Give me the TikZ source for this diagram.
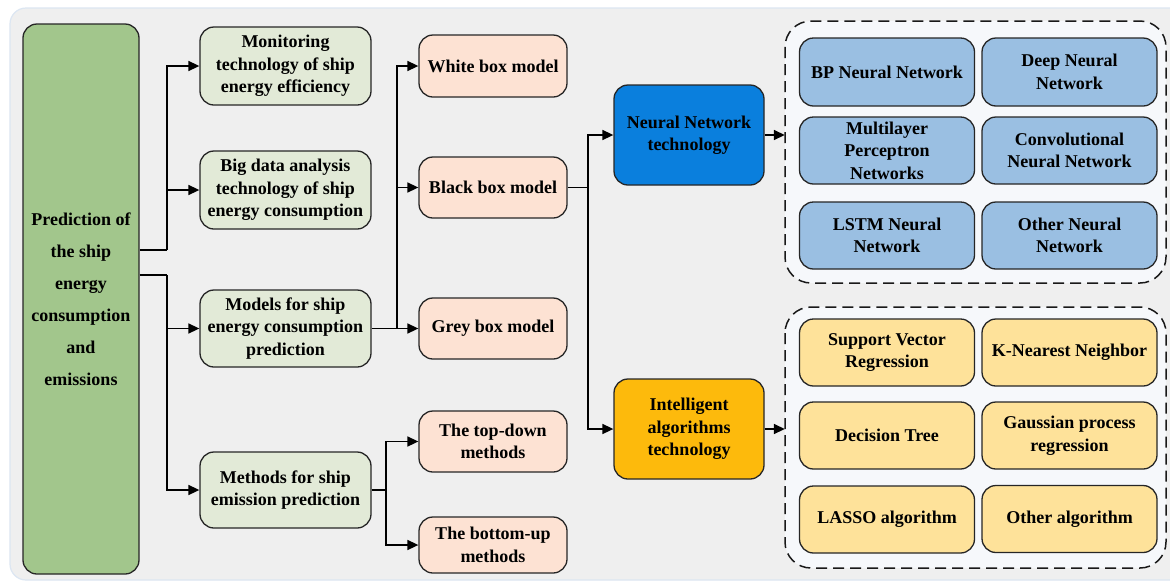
\documentclass[tikz,border=0pt]{standalone}
\usepackage{fontspec}
\setmainfont{Liberation Serif}
\usetikzlibrary{arrows.meta}
\definecolor{panelfill}{HTML}{EFEFEF}
\definecolor{panelline}{HTML}{DCE6F2}
\definecolor{maingreen}{HTML}{A2C68C}
\definecolor{lightgreen}{HTML}{E2EAD7}
\definecolor{peach}{HTML}{FDE2D3}
\definecolor{nnblue}{HTML}{0A7FDD}
\definecolor{lightblue}{HTML}{9ABFE2}
\definecolor{amber}{HTML}{FDBA0C}
\definecolor{lightyellow}{HTML}{FEE29A}
\definecolor{contfill}{HTML}{F6F8FB}
\begin{document}
\begin{tikzpicture}[x=1pt,y=-1pt,
  box/.style={draw=black!85, line width=1.3pt, rounded corners=14pt, align=center,
    font=\bfseries\fontsize{18}{22.5}\selectfont, inner sep=0pt},
  mainbox/.style={box, fill=maingreen, minimum width=116pt, minimum height=550pt,
    font=\bfseries\fontsize{18}{32}\selectfont},
  greenbox/.style={box, fill=lightgreen, minimum width=171pt},
  peachbox/.style={box, fill=peach, minimum width=148pt},
  techbox/.style={box, minimum width=150pt, minimum height=100pt},
  bluebox/.style={box, fill=lightblue, minimum width=175pt},
  yellowbox/.style={box, fill=lightyellow, minimum width=175pt},
  container/.style={draw=black!90, line width=1.5pt, dash pattern=on 11pt off 6pt,
    rounded corners=26pt, fill=contfill},
  ln/.style={line width=1.6pt, draw=black},
  arr/.style={ln, -{Triangle[length=11pt,width=10pt]}}
]
\useasboundingbox (0,0) rectangle (1170,582);
\fill[white] (0,0) rectangle (1170,582);
\draw[panelline, fill=panelfill, line width=1.2pt, rounded corners=16pt] (10,8) rectangle (1190,580);

% containers
\path[container] (785,21) rectangle (1166,283);
\path[container] (785,307) rectangle (1166,568);
\node[minimum width=381pt, minimum height=262pt, inner sep=0pt] (nnc) at (975.5,152) {};
\node[minimum width=381pt, minimum height=261pt, inner sep=0pt] (iac) at (975.5,437.5) {};

% main
\node[mainbox] (main) at (81,299) {Prediction of\\the ship\\energy\\consumption\\and\\emissions};

% level 1
\node[greenbox, minimum height=78pt] (mon) at (285.5,66) {Monitoring\\technology of ship\\energy efficiency};
\node[greenbox, minimum height=78pt] (big) at (285.5,190) {Big data analysis\\technology of ship\\energy consumption};
\node[greenbox, minimum height=77pt] (mod) at (285.5,328.5) {Models for ship\\energy consumption\\prediction};
\node[greenbox, minimum height=76pt] (meth) at (285.5,490) {Methods for ship\\emission prediction};

% level 2
\node[peachbox, minimum height=62pt] (white) at (493,66) {White box model};
\node[peachbox, minimum height=61pt] (black) at (493,187.5) {Black box model};
\node[peachbox, minimum height=61pt] (grey) at (493,328.5) {Grey box model};
\node[peachbox, minimum height=61pt] (top) at (493,441.5) {The top-down\\methods};
\node[peachbox, minimum height=56pt] (bot) at (493,545) {The bottom-up\\methods};

% level 3
\node[techbox, fill=nnblue] (nn) at (689,135) {Neural Network\\technology};
\node[techbox, fill=amber] (ia) at (689,429) {Intelligent\\algorithms\\technology};

% NN items
\node[bluebox, minimum height=68pt] (bp) at (887,72) {BP Neural Network};
\node[bluebox, minimum height=68pt] (dnn) at (1069.5,72) {Deep Neural\\Network};
\node[bluebox, minimum height=67pt] (mlp) at (887,150.5) {Multilayer\\Perceptron\\Networks};
\node[bluebox, minimum height=67pt] (cnn) at (1069.5,150.5) {Convolutional\\Neural Network};
\node[bluebox, minimum height=67pt] (lstm) at (887,235.5) {LSTM Neural\\Network};
\node[bluebox, minimum height=67pt] (onn) at (1069.5,235.5) {Other Neural\\Network};

% IA items
\node[yellowbox, minimum height=67pt] (svr) at (887,352.5) {Support Vector\\Regression};
\node[yellowbox, minimum height=67pt] (knn) at (1069.5,352.5) {K-Nearest Neighbor};
\node[yellowbox, minimum height=67pt] (dt) at (887,435.5) {Decision Tree};
\node[yellowbox, minimum height=67pt] (gpr) at (1069.5,435.5) {Gaussian process\\regression};
\node[yellowbox, minimum height=67pt] (lasso) at (887,519.5) {LASSO algorithm};
\node[yellowbox, minimum height=67pt] (oa) at (1069.5,519) {Other algorithm};

% connectors
\coordinate (j1) at (167,250);
\coordinate (j2) at (167,275);
\draw[ln] (main.east |- j1) -- (j1);
\draw[arr] (j1) |- (mon.west);
\draw[arr] (j1) |- (big.west);
\draw[ln] (main.east |- j2) -- (j2);
\draw[arr] (j2) |- (mod.west);
\draw[arr] (j2) |- (meth.west);

\coordinate (j3) at (397,328.5);
\draw[arr] (mod.east) -- (grey.west);
\draw[arr] (j3) |- (white.west);
\draw[arr] (j3) |- (black.west);

\coordinate (j4) at (588,187.5);
\draw[ln] (black.east) -- (j4);
\draw[arr] (j4) |- (nn.west);
\draw[arr] (j4) |- (ia.west);

\coordinate (j5) at (386,490);
\draw[ln] (meth.east) -- (j5);
\draw[arr] (j5) |- (top.west);
\draw[arr] (j5) |- (bot.west);

\draw[arr] (nn.east) -- (nnc.west |- nn.east);
\draw[arr] (ia.east) -- (iac.west |- ia.east);
\end{tikzpicture}
\end{document}
